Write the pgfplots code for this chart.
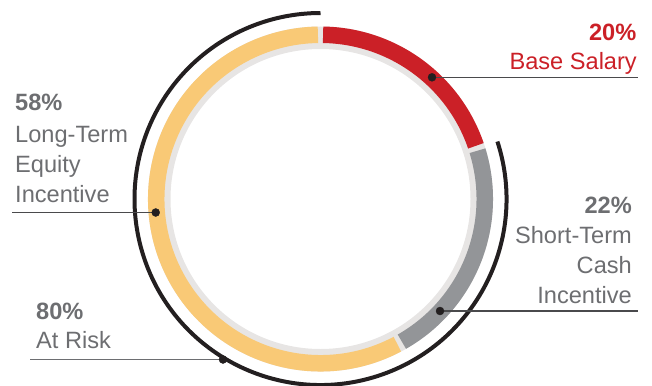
\documentclass[border=0pt]{standalone}
\usepackage{pgfplots}
\usepackage{pgfplotstable}
\pgfplotsset{compat=1.18}
\usepackage{fontspec}
\setmainfont{Liberation Sans}
\definecolor{cred}{HTML}{CB2027}
\definecolor{cgray}{HTML}{939598}
\definecolor{cyellow}{HTML}{F9C976}
\definecolor{cring}{HTML}{E7E5E4}
\definecolor{cblack}{HTML}{231F20}
\definecolor{ctext}{HTML}{6D6E71}
\definecolor{cline}{HTML}{4A4A4C}

\pgfplotstableread{
part value
Base 20
STI 22
LTI 58
}\pietable

\begin{document}
\begin{tikzpicture}
\pgfplotstablegetelem{0}{value}\of\pietable \pgfmathsetmacro{\vA}{\pgfplotsretval}
\pgfplotstablegetelem{1}{value}\of\pietable \pgfmathsetmacro{\vB}{\pgfplotsretval}
\pgfplotstablegetelem{2}{value}\of\pietable \pgfmathsetmacro{\vC}{\pgfplotsretval}
% angles (clockwise from top)
\pgfmathsetmacro{\aZero}{90}
\pgfmathsetmacro{\aOne}{90-3.6*\vA}
\pgfmathsetmacro{\aTwo}{\aOne-3.6*\vB}
\pgfmathsetmacro{\aThree}{\aTwo-3.6*\vC}
\pgfmathsetmacro{\g}{0.9}
\begin{axis}[width=652pt,height=385pt,scale only axis,
  xmin=0,xmax=652,ymin=0,ymax=385,y dir=reverse,
  hide axis,clip=false]
% light ring
\fill[cring,even odd rule] (axis cs:320.5,199) circle[radius=172.5pt] (axis cs:320.5,199) circle[radius=150pt];
% coloured segments
\draw[cred,line width=16.5pt] (axis cs:320.5,199) ++(canvas polar cs:angle=\aZero-\g,radius=164.25pt) arc[start angle=\aZero-\g,end angle=\aOne+\g,radius=164.25pt];
\draw[cgray,line width=16.5pt] (axis cs:320.5,199) ++(canvas polar cs:angle=\aOne-\g,radius=164.25pt) arc[start angle=\aOne-\g,end angle=\aTwo+\g,radius=164.25pt];
\draw[cyellow,line width=16.5pt] (axis cs:320.5,199) ++(canvas polar cs:angle=\aTwo-\g,radius=164.25pt) arc[start angle=\aTwo-\g,end angle=\aThree+\g,radius=164.25pt];
% at-risk arc
\draw[cblack,line width=4pt] (axis cs:320.5,199) ++(canvas polar cs:angle=\aOne,radius=186pt) arc[start angle=\aOne,end angle=\aThree,radius=186pt];
% leader lines
\addplot[cline,line width=1.1pt,mark=none] coordinates {(432,77.3) (638,77.3)};
\addplot[cline,line width=1.1pt,mark=none] coordinates {(440,311) (638,311)};
\addplot[cline,line width=1.1pt,mark=none] coordinates {(12,212.5) (155.7,212.5)};
\addplot[ctext,line width=1.1pt,mark=none] coordinates {(30,359.5) (223,359.5)};
\addplot[only marks,mark=*,mark size=4pt,cblack,mark options={draw=cblack,fill=cblack}] coordinates {(432,77.3) (440,311) (155.7,212.5) (223,359.5)};
% labels
\node[anchor=base east,text=cred,font=\fontsize{23.6}{30}\selectfont\bfseries,inner sep=0pt] at (axis cs:636.5,41) {20\%};
\node[anchor=base east,text=cred,font=\fontsize{23.6}{30}\selectfont,inner sep=0pt] at (axis cs:637,70) {Base Salary};
\node[anchor=base east,text=ctext,font=\fontsize{23.6}{30}\selectfont\bfseries,inner sep=0pt] at (axis cs:632,213) {22\%};
\node[anchor=base east,text=ctext,font=\fontsize{23.6}{30}\selectfont,inner sep=0pt] at (axis cs:632,243) {Short-Term};
\node[anchor=base east,text=ctext,font=\fontsize{23.6}{30}\selectfont,inner sep=0pt] at (axis cs:632,273) {Cash};
\node[anchor=base east,text=ctext,font=\fontsize{23.6}{30}\selectfont,inner sep=0pt] at (axis cs:632,303) {Incentive};
\node[anchor=base west,text=ctext,font=\fontsize{23.6}{30}\selectfont\bfseries,inner sep=0pt] at (axis cs:15,110) {58\%};
\node[anchor=base west,text=ctext,font=\fontsize{23.6}{30}\selectfont,inner sep=0pt] at (axis cs:15,142) {Long-Term};
\node[anchor=base west,text=ctext,font=\fontsize{23.6}{30}\selectfont,inner sep=0pt] at (axis cs:15,172) {Equity};
\node[anchor=base west,text=ctext,font=\fontsize{23.6}{30}\selectfont,inner sep=0pt] at (axis cs:15,202) {Incentive};
\node[anchor=base west,text=ctext,font=\fontsize{23.6}{30}\selectfont\bfseries,inner sep=0pt] at (axis cs:36,319) {80\%};
\node[anchor=base west,text=ctext,font=\fontsize{23.6}{30}\selectfont,inner sep=0pt] at (axis cs:36,348) {At Risk};
\end{axis}
\pgfresetboundingbox
\path (0,0) rectangle (652pt,385pt);
\end{tikzpicture}
\end{document}
